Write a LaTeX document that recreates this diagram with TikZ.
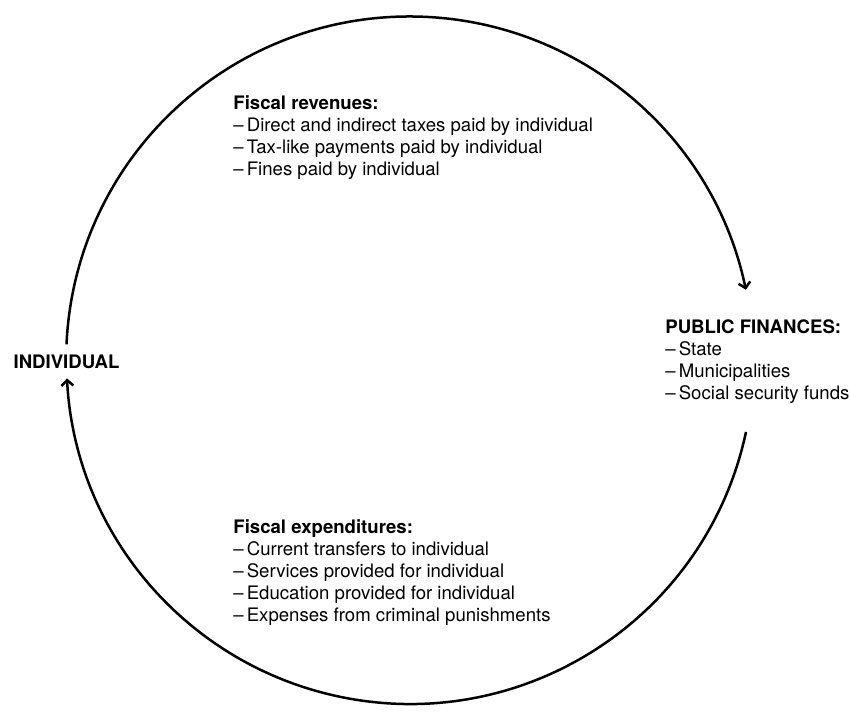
\documentclass[tikz,border=0pt]{standalone}
\usepackage{fontspec}
\setmainfont{TeX Gyre Heros}
\usepackage{tikz}
\usetikzlibrary{arrows.meta, positioning, calc}

\newcommand{\lbl}[1]{\fontsize{9.3}{11}\selectfont\begin{tabular}[t]{@{}l@{}}#1\end{tabular}}
\newcommand{\itm}{--\,}

\begin{document}
\begin{tikzpicture}[x=0.5pt, y=0.5pt,
  flow/.style={line width=1.25pt, -{Straight Barb[length=2.8pt, width=6pt]}},
  block/.style={anchor=base west, inner sep=0pt}]
  \useasboundingbox (0,0) rectangle (850,715);
  % circle centre
  \coordinate (hub) at (410,354.5);
  \node[inner xsep=0pt, inner ysep=5.15pt, font=\fontsize{9.3}{11}\selectfont\bfseries] (ind) at (66.5,353) {INDIVIDUAL};
  \node[block] (pub) at (665,381.3) {\lbl{\textbf{PUBLIC FINANCES:}\\ \itm State\\ \itm Municipalities\\ \itm Social security funds}};
  \node[block] (rev) at (233,605.3) {\lbl{\textbf{Fiscal revenues:}\\ \itm Direct and indirect taxes paid by individual\\ \itm Tax-like payments paid by individual\\ \itm Fines paid by individual}};
  \node[block] (exp) at (233,181.3) {\lbl{\textbf{Fiscal expenditures:}\\ \itm Current transfers to individual\\ \itm Services provided for individual\\ \itm Education provided for individual\\ \itm Expenses from criminal punishments}};
  % flows
  \coordinate (back) at ($(hub)+(-12:343.5)$);
  \draw[flow] (ind.north) arc[start angle=177.4, end angle=11.8, radius=343.5];
  \draw[flow] (back) arc[start angle=-12, end angle=-177, radius=343.5];
\end{tikzpicture}
\end{document}
